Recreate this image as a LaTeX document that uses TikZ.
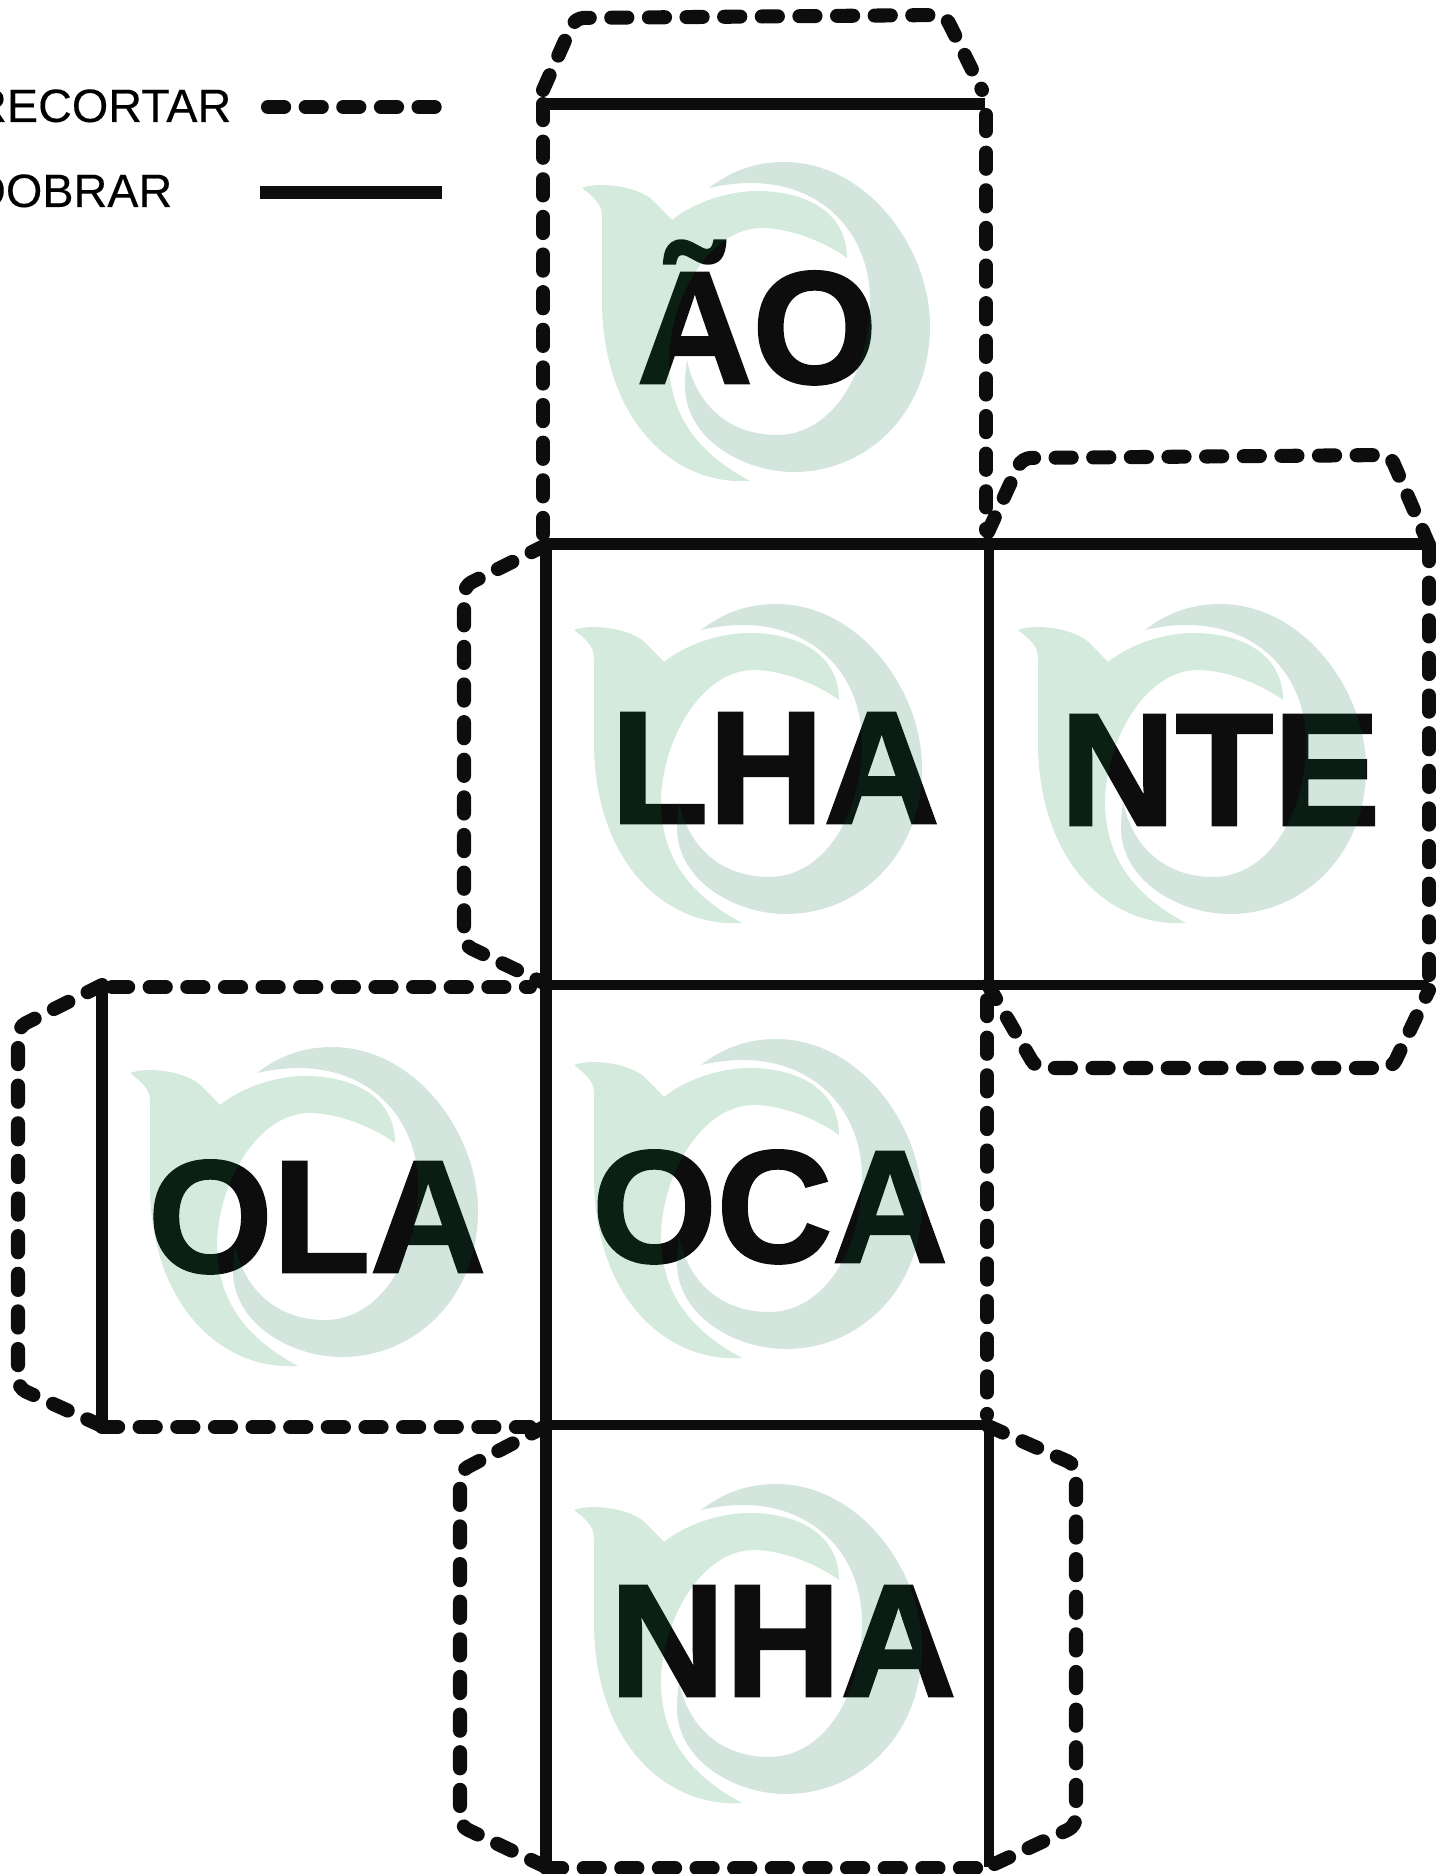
\documentclass[tikz,border=0pt]{standalone}
\usepackage{fontspec}
\setmainfont{Liberation Sans}
\newfontfamily\cubefont[FakeBold=1.6]{Liberation Sans Bold}
\newfontfamily\legendfont[FakeBold=0.25]{Liberation Sans}
\definecolor{inkblack}{HTML}{0D0D0D}
\tikzset{
  cutline/.style={draw=inkblack, line width=4pt, line cap=round, dash pattern=on 4.6pt off 6.1pt, rounded corners=2.5pt},
  foldline/.style={draw=inkblack, line width=3.4pt},
  thinfold/.style={draw=inkblack, line width=2.6pt},
  cubeword/.style={inner sep=0pt, anchor=base, text=inkblack, font=\fontsize{45.5}{46}\cubefont},
  legendword/.style={inner sep=0pt, anchor=base east, text=black, font=\fontsize{13.3}{13.3}\legendfont},
  logomark/.pic={
    \fill[color={rgb,1:red,0;green,0.5;blue,0.2}, fill opacity=0.17]
      (0,0) .. controls (15,-6) and (50,-3) .. (68,10)
      .. controls (75,16) and (82,24) .. (90,32)
      .. controls (115,12) and (150,3) .. (175,3)
      .. controls (225,3) and (265,25) .. (265,70)
      .. controls (240,52) and (205,40) .. (180,40)
      .. controls (125,40) and (87,115) .. (87,172)
      .. controls (87,235) and (125,270) .. (168,293)
      .. controls (90,298) and (20,230) .. (20,112)
      -- (20,28) .. controls (20,15) and (10,8) .. (0,0) -- cycle;
    \fill[color={rgb,1:red,0;green,0.4;blue,0.22}, fill opacity=0.17]
      (127,0) .. controls (150,-18) and (175,-26) .. (202,-26)
      .. controls (285,-26) and (348,60) .. (348,138)
      .. controls (348,225) and (285,284) .. (212,284)
      .. controls (160,284) and (103,250) .. (103,198)
      .. controls (103,188) and (104,180) .. (105,172)
      .. controls (115,220) and (150,247) .. (195,247)
      .. controls (250,247) and (288,185) .. (288,112)
      .. controls (288,50) and (245,-5) .. (168,-5)
      .. controls (155,-5) and (140,-3) .. (127,0) -- cycle;
  }
}
\begin{document}
\begin{tikzpicture}[x=0.01cm, y=-0.01cm]
    \useasboundingbox (0,0) rectangle (1447,1874);
    \node[legendword] (recortar) at (232,122) {RECORTAR};
    \node[legendword] (dobrar) at (173,207) {DOBRAR};
    \coordinate (cutA) at (268,107);
    \coordinate (cutB) at (436,107);
    \coordinate (foldA) at (260,193);
    \coordinate (foldB) at (442,193);
    \draw[cutline] (cutA) -- (cutB);
    \draw[foldline, line width=3.7pt] (foldA) -- (foldB);

    \node[cubeword] (AO) at (757,383) {ÃO};
    \node[cubeword] (LHA) at (775,823) {LHA};
    \node[cubeword] (NTE) at (1220,825) {NTE};
    \node[cubeword] (OLA) at (317,1272) {OLA};
    \node[cubeword] (OCA) at (770,1262) {OCA};
    \node[cubeword] (NHA) at (783,1696) {NHA};

    \pic (logoAO) at (582,188) {logomark};
    \pic (logoLHA) at (574,630) {logomark};
    \pic (logoNTE) at (1018,630) {logomark};
    \pic (logoOLA) at (130,1073) {logomark};
    \pic (logoOCA) at (574,1065) {logomark};
    \pic (logoNHA) at (574,1510) {logomark};

    \draw[cutline] (543,90) -- (575,18) -- (945,15) -- (982,90);
    \draw[cutline] (543,104) -- (543,540);
    \draw[cutline] (986,115) -- (986,530);
    \draw[cutline] (988,532) -- (1022,458) -- (1390,455) -- (1429,545);
    \draw[cutline] (546,545) -- (464,586) -- (464,945) -- (546,984);
    \draw[cutline] (1429,545) -- (1429,985);
    \draw[cutline] (988,985) -- (1036,1068) -- (1392,1068) -- (1429,990);
    \draw[cutline] (112,987) -- (530,987);
    \draw[cutline] (102,985) -- (18,1027) -- (18,1388) -- (102,1426);
    \draw[cutline] (102,1427) -- (530,1427);
    \draw[cutline] (987,1000) -- (987,1415);
    \draw[cutline] (546,1426) -- (460,1471) -- (460,1826) -- (546,1867);
    \draw[cutline] (988,1426) -- (1076,1465) -- (1076,1826) -- (988,1867);
    \draw[cutline] (546,1868) -- (988,1868);

    \draw[foldline] (543,104) -- (985,104);
    \draw[foldline] (546,544) -- (1429,544);
    \draw[thinfold] (546,985) -- (1429,985);
    \draw[thinfold] (546,1425) -- (988,1425);
    \draw[foldline] (546,544) -- (546,1867);
    \draw[thinfold] (989,544) -- (989,985);
    \draw[thinfold] (989,1426) -- (989,1867);
    \draw[foldline] (102,985) -- (102,1426);
\end{tikzpicture}
\end{document}
